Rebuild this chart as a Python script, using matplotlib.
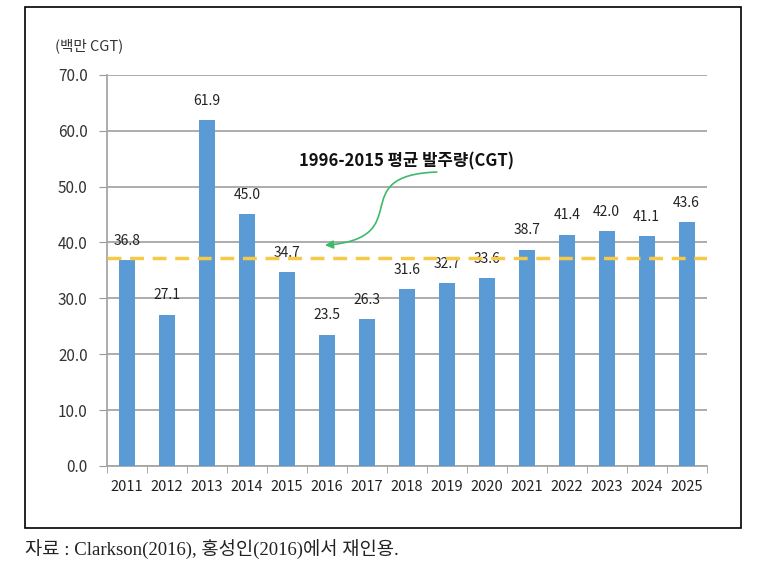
import matplotlib
matplotlib.use("Agg")
import matplotlib.pyplot as plt
from matplotlib.patches import Rectangle, FancyArrowPatch
from matplotlib.path import Path

plt.rcParams['font.family'] = ['Noto Sans CJK KR', 'DejaVu Sans']

years = ['2011', '2012', '2013', '2014', '2015', '2016', '2017', '2018',
         '2019', '2020', '2021', '2022', '2023', '2024', '2025']
orders = [36.8, 27.1, 61.9, 45.0, 34.7, 23.5, 26.3, 31.6,
          32.7, 33.6, 38.7, 41.4, 42.0, 41.1, 43.6]
avg_1996_2015 = 37.2

fig = plt.figure(figsize=(7.59, 5.71), dpi=100)
ax = fig.add_axes([0.141, 0.184, 0.790, 0.685])

x = range(len(years))
ax.bar(x, orders, width=0.4, color='#5B9BD5', zorder=3)
for i, v in enumerate(orders):
    ax.text(i, v + 2.2, '%.1f' % v, ha='center', va='bottom', fontsize=10, color='#222222')

ax.axhline(avg_1996_2015, color='#F7C948', lw=2.5, ls=(0, (4, 2.5)), zorder=4)

ax.set_xlim(-0.5, len(years) - 0.5)
ax.set_ylim(0, 70)
ax.set_yticks(range(0, 71, 10))
ax.set_yticklabels(['%.1f' % t for t in range(0, 71, 10)], fontsize=11, color='#333333')
ax.set_xticks(list(x))
ax.set_xticklabels(years, fontsize=10.5, color='#222222')
ax.set_xticks([i - 0.5 for i in range(len(years) + 1)], minor=True)
ax.tick_params(axis='x', which='major', length=0, pad=10)
ax.tick_params(axis='x', which='minor', length=5, color='#999999')
ax.tick_params(axis='y', length=6, color='#999999', pad=8)
ax.grid(axis='y', color='#A6A6A6', lw=1.3, zorder=0)
for s in ['top', 'right']:
    ax.spines[s].set_visible(False)
ax.spines['left'].set_color('#A6A6A6')
ax.spines['bottom'].set_color('#A6A6A6')
ax.spines['left'].set_linewidth(1.3)
ax.spines['bottom'].set_linewidth(1.3)

ax.text(-0.03, 1.075, '(백만 CGT)', transform=ax.transAxes, ha='center', va='center',
        fontsize=10.5, color='#333333')

# annotation for the average line
ax.text(7.0, 54.5, '1996-2015 평균 발주량(CGT)', ha='center', va='center',
        fontsize=12, fontweight='bold', color='#111111')
curve = Path([(7.75, 52.6), (5.4, 52.0), (7.3, 40.8), (4.95, 39.5)],
             [Path.MOVETO, Path.CURVE4, Path.CURVE4, Path.CURVE4])
arrow = FancyArrowPatch(path=curve, arrowstyle='-|>', mutation_scale=12,
                        color='#3DBB6B', lw=1.2, zorder=5)
ax.add_patch(arrow)

# frame around the whole chart
fig.patches.append(Rectangle((0.033, 0.075), 0.943, 0.913, transform=fig.transFigure,
                             fill=False, ec='black', lw=1.2))

fig.text(0.033, 0.037, '자료 : Clarkson(2016), 홍성인(2016)에서 재인용.', ha='left',
         va='center', fontsize=13.5, color='#222222',
         family=['Liberation Serif', 'Noto Sans CJK KR'])

fig.savefig('out.png', dpi=100)
